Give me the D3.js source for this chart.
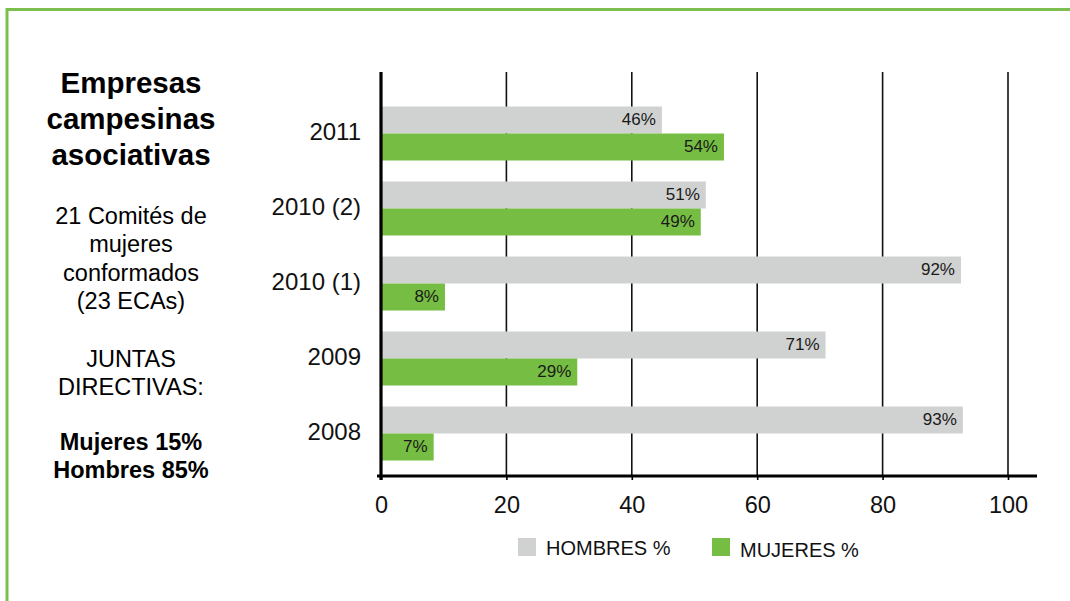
<!DOCTYPE html>
<html>
<head>
<meta charset="utf-8">
<script src="https://cdn.jsdelivr.net/npm/d3@7"></script>
<style>
  body { margin: 0; background: #fff; }
  svg { display: block; font-family: "Liberation Sans", Arial, sans-serif; }
</style>
</head>
<body>
<div id="main"></div>
<script>
// data
const years = ["2011", "2010 (2)", "2010 (1)", "2009", "2008"];
const hombres = [44.8, 51.8, 92.5, 70.9, 92.8];
const mujeres = [54.7, 51.0, 10.2, 31.3, 8.4];
const hombresLabels = ["46%", "51%", "92%", "71%", "93%"];
const mujeresLabels = ["54%", "49%", "8%", "29%", "7%"];
const xTicks = [0, 20, 40, 60, 80, 100];
const seriesNames = ["HOMBRES %", "MUJERES %"];

const titleLines = ["Empresas", "campesinas", "asociativas"];
const noteLines = ["21 Comités de", "mujeres", "conformados", "(23 ECAs)"];
const juntasLines = ["JUNTAS", "DIRECTIVAS:"];
const boldLines = ["Mujeres 15%", "Hombres 85%"];

const colors = { hombres: "#d0d1d1", mujeres: "#76bd43", frame: "#7bc04e" };

const W = 1070, H = 601;
const plot = { left: 381, right: 1008, top: 72, bottom: 476 };

const svg = d3.select("#main").append("svg")
  .attr("width", W)
  .attr("height", H);

// green frame (top + left)
svg.append("line")
  .attr("x1", 6).attr("x2", W).attr("y1", 9.5).attr("y2", 9.5)
  .attr("stroke", colors.frame).attr("stroke-width", 3);
svg.append("line")
  .attr("x1", 7).attr("x2", 7).attr("y1", 8).attr("y2", H)
  .attr("stroke", colors.frame).attr("stroke-width", 3);

const x = d3.scaleLinear().domain([0, 100]).range([plot.left, plot.right]);
const y = d3.scaleBand().domain(years).range([96, 471])
  .paddingInner(0.28).paddingOuter(0.14);
const sub = d3.scaleBand().domain(["h", "m"]).range([0, y.bandwidth()]);

// vertical grid lines
svg.append("g")
  .selectAll("line")
  .data(xTicks.slice(1))
  .join("line")
  .attr("x1", d => x(d)).attr("x2", d => x(d))
  .attr("y1", plot.top).attr("y2", plot.bottom)
  .attr("stroke", "#111").attr("stroke-width", 1.6);

const rows = years.map((yr, i) => ({
  year: yr,
  h: hombres[i], m: mujeres[i],
  hl: hombresLabels[i], ml: mujeresLabels[i]
}));

const bars = [];
rows.forEach(r => {
  bars.push({ year: r.year, key: "h", v: r.h, label: r.hl, color: colors.hombres });
  bars.push({ year: r.year, key: "m", v: r.m, label: r.ml, color: colors.mujeres });
});

svg.append("g")
  .selectAll("rect")
  .data(bars)
  .join("rect")
  .attr("x", x(0))
  .attr("y", d => y(d.year) + sub(d.key))
  .attr("width", d => x(d.v) - x(0))
  .attr("height", sub.bandwidth())
  .attr("fill", d => d.color);

svg.append("g")
  .selectAll("text")
  .data(bars)
  .join("text")
  .attr("x", d => x(d.v) - 6)
  .attr("y", d => y(d.year) + sub(d.key) + sub.bandwidth() / 2 + 1)
  .attr("text-anchor", "end")
  .attr("dominant-baseline", "middle")
  .attr("font-size", 17)
  .attr("fill", "#1a1a1a")
  .text(d => d.label);

// axes
svg.append("line")
  .attr("x1", x(0)).attr("x2", x(0))
  .attr("y1", plot.top).attr("y2", plot.bottom + 4)
  .attr("stroke", "#000").attr("stroke-width", 3.2);

const xAxis = svg.append("g")
  .attr("transform", `translate(0,${plot.bottom})`)
  .call(d3.axisBottom(x).tickValues(xTicks).tickSize(4).tickPadding(16));
xAxis.select(".domain").remove();
xAxis.selectAll(".tick line").attr("stroke", "#000").attr("stroke-width", 1.6);
xAxis.selectAll(".tick text")
  .attr("font-size", 23.5)
  .attr("font-family", "'Liberation Sans', Arial, sans-serif")
  .attr("fill", "#111");

svg.append("line")
  .attr("x1", x(0) - 4).attr("x2", 1037)
  .attr("y1", plot.bottom).attr("y2", plot.bottom)
  .attr("stroke", "#000").attr("stroke-width", 3.2);

// year labels
svg.append("g")
  .selectAll("text")
  .data(years)
  .join("text")
  .attr("x", 361)
  .attr("y", d => y(d) + y.bandwidth() / 2)
  .attr("text-anchor", "end")
  .attr("dominant-baseline", "middle")
  .attr("font-size", 24)
  .attr("fill", "#111")
  .text(d => d);

// left side text
const cx = 131;
function block(lines, y0, step, size, weight) {
  svg.append("g")
    .selectAll("text")
    .data(lines)
    .join("text")
    .attr("x", cx)
    .attr("y", (d, i) => y0 + i * step)
    .attr("text-anchor", "middle")
    .attr("font-size", size)
    .attr("font-weight", weight)
    .attr("fill", "#000")
    .text(d => d);
}
block(titleLines, 93, 36, 29.5, "bold");
block(noteLines, 224, 28.3, 23.5, "normal");
block(juntasLines, 367, 27.5, 23.5, "normal");
block(boldLines, 450, 28, 23.5, "bold");

// legend
const legendX = [518, 712];
const legend = svg.append("g");
legend.selectAll("rect")
  .data(seriesNames)
  .join("rect")
  .attr("x", (d, i) => legendX[i])
  .attr("y", 538)
  .attr("width", 18).attr("height", 18)
  .attr("fill", (d, i) => i === 0 ? colors.hombres : colors.mujeres);
legend.selectAll("text")
  .data(seriesNames)
  .join("text")
  .attr("x", (d, i) => legendX[i] + 28)
  .attr("y", (d, i) => i === 0 ? 555 : 557)
  .attr("font-size", 20)
  .attr("fill", "#111")
  .text(d => d);
</script>
</body>
</html>
